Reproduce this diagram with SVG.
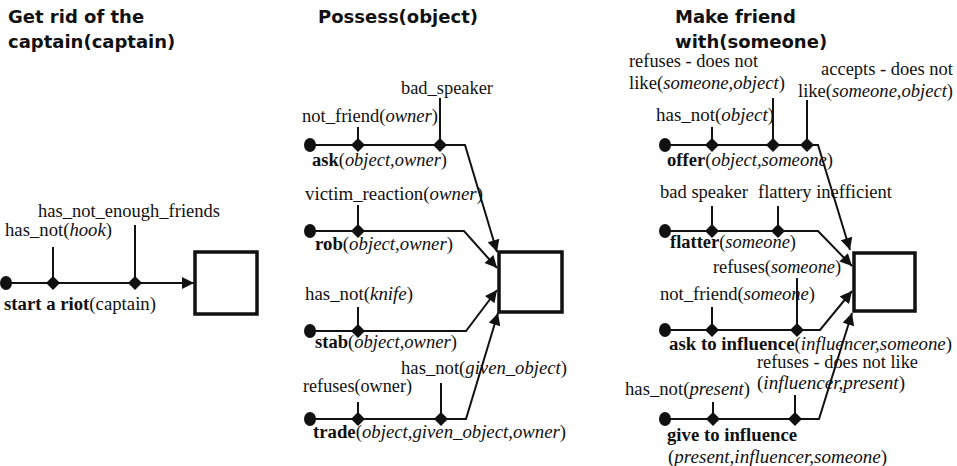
<svg xmlns="http://www.w3.org/2000/svg" width="957" height="466" viewBox="0 0 957 466">
  <style>
    .title { font-family: "DejaVu Sans", Verdana, sans-serif; font-weight: bold; font-size: 18px; fill: #111; }
    .lbl { font-family: "Liberation Serif", "DejaVu Serif", serif; font-size: 18.5px; fill: #111; }
    .b { font-weight: bold; }
    .i { font-style: italic; }
    .wire { stroke: #111; stroke-width: 2; fill: none; }
    .arr { stroke: #111; stroke-width: 2; fill: none; marker-end: url(#head); }
    .goal { fill: #fff; stroke: #111; stroke-width: 3.5; }
    .dot { fill: #111; }
    .dia { fill: #111; }
  </style>
  <defs>
    <marker id="head" viewBox="0 0 10 10" refX="10" refY="5" markerWidth="6.5" markerHeight="6" markerUnits="strokeWidth" orient="auto">
      <path d="M0,0 L10,5 L0,10 z" fill="#111"/>
    </marker>
    <path id="d" d="M0,-7 L7,0 L0,7 L-7,0 z"/>
  </defs>
  <rect width="957" height="466" fill="#fff"/>

  <!-- Goal: get rid of the captain -->
  <g id="title-captain">
    <text class="title" x="8" y="23">Get rid of the</text>
    <text class="title" x="8" y="48">captain(captain)</text>
  </g>
  <g id="goal-captain"><rect class="goal" x="195" y="252" width="62" height="62"/></g>
  <g id="plan-riot">
    <ellipse class="dot" cx="6" cy="283" rx="6" ry="7"/>
    <use href="#d" x="53" y="283" class="dia"/>
    <use href="#d" x="135" y="283" class="dia"/>
    <text class="lbl" x="5" y="236" textLength="107" lengthAdjust="spacingAndGlyphs">has_not(<tspan class="i">hook</tspan>)</text>
    <text class="lbl" x="38" y="217" textLength="182" lengthAdjust="spacingAndGlyphs">has_not_enough_friends</text>
    <text class="lbl" x="4" y="310" textLength="152" lengthAdjust="spacingAndGlyphs"><tspan class="b">start a riot</tspan>(captain)</text>
  </g>

  <!-- Goal: possess object -->
  <g id="title-possess"><text class="title" x="318" y="23">Possess(object)</text></g>
  <g id="goal-possess"><rect class="goal" x="499" y="252" width="63" height="60"/></g>
  <g id="plan-ask">
    <ellipse class="dot" cx="310" cy="145" rx="6" ry="7"/>
    <use href="#d" x="358" y="145" class="dia"/>
    <use href="#d" x="440" y="145" class="dia"/>
    <text class="lbl" x="302" y="122" textLength="136" lengthAdjust="spacingAndGlyphs">not_friend(<tspan class="i">owner</tspan>)</text>
    <text class="lbl" x="401" y="94" textLength="92" lengthAdjust="spacingAndGlyphs">bad_speaker</text>
    <text class="lbl" x="312" y="166" textLength="135" lengthAdjust="spacingAndGlyphs"><tspan class="b">ask</tspan>(<tspan class="i">object,owner</tspan>)</text>
  </g>
  <g id="plan-rob">
    <ellipse class="dot" cx="310" cy="231" rx="6" ry="7"/>
    <use href="#d" x="358" y="231" class="dia"/>
    <text class="lbl" x="305" y="200" textLength="178" lengthAdjust="spacingAndGlyphs">victim_reaction(<tspan class="i">owner</tspan>)</text>
    <text class="lbl" x="315" y="250" textLength="138" lengthAdjust="spacingAndGlyphs"><tspan class="b">rob</tspan>(<tspan class="i">object,owner</tspan>)</text>
  </g>
  <g id="plan-stab">
    <ellipse class="dot" cx="310" cy="331" rx="6" ry="7"/>
    <use href="#d" x="358" y="331" class="dia"/>
    <text class="lbl" x="305" y="300" textLength="108" lengthAdjust="spacingAndGlyphs">has_not(<tspan class="i">knife</tspan>)</text>
    <text class="lbl" x="315" y="348" textLength="142" lengthAdjust="spacingAndGlyphs"><tspan class="b">stab</tspan>(<tspan class="i">object,owner</tspan>)</text>
  </g>
  <g id="plan-trade">
    <ellipse class="dot" cx="310" cy="419" rx="6" ry="7"/>
    <use href="#d" x="358" y="419" class="dia"/>
    <use href="#d" x="441" y="419" class="dia"/>
    <text class="lbl" x="303" y="392" textLength="109" lengthAdjust="spacingAndGlyphs">refuses(owner)</text>
    <text class="lbl" x="401" y="374" textLength="166" lengthAdjust="spacingAndGlyphs">has_not(<tspan class="i">given_object</tspan>)</text>
    <text class="lbl" x="313" y="438" textLength="253" lengthAdjust="spacingAndGlyphs"><tspan class="b">trade</tspan>(<tspan class="i">object,given_object,owner</tspan>)</text>
  </g>

  <!-- Goal: make friend with someone -->
  <g id="title-friend">
    <text class="title" x="675" y="23">Make friend</text>
    <text class="title" x="675" y="48">with(someone)</text>
  </g>
  <g id="goal-friend"><rect class="goal" x="854" y="253" width="61" height="58"/></g>
  <g id="plan-offer">
    <ellipse class="dot" cx="665" cy="145" rx="6" ry="7"/>
    <use href="#d" x="712" y="145" class="dia"/>
    <use href="#d" x="773" y="145" class="dia"/>
    <use href="#d" x="807" y="145" class="dia"/>
    <text class="lbl" x="656" y="121" textLength="118" lengthAdjust="spacingAndGlyphs">has_not(<tspan class="i">object</tspan>)</text>
    <text class="lbl" x="629" y="67" textLength="129" lengthAdjust="spacingAndGlyphs">refuses - does not</text>
    <text class="lbl" x="629" y="89" textLength="156" lengthAdjust="spacingAndGlyphs">like(<tspan class="i">someone,object</tspan>)</text>
    <text class="lbl" x="821" y="75" textLength="132" lengthAdjust="spacingAndGlyphs">accepts - does not</text>
    <text class="lbl" x="798" y="97" textLength="155" lengthAdjust="spacingAndGlyphs">like(<tspan class="i">someone,object</tspan>)</text>
    <text class="lbl" x="667" y="166" textLength="166" lengthAdjust="spacingAndGlyphs"><tspan class="b">offer</tspan>(<tspan class="i">object,someone</tspan>)</text>
  </g>
  <g id="plan-flatter">
    <ellipse class="dot" cx="665" cy="231" rx="6" ry="7"/>
    <use href="#d" x="712" y="231" class="dia"/>
    <use href="#d" x="778" y="231" class="dia"/>
    <text class="lbl" x="660" y="198" textLength="88" lengthAdjust="spacingAndGlyphs">bad speaker</text>
    <text class="lbl" x="758" y="198" textLength="134" lengthAdjust="spacingAndGlyphs">flattery inefficient</text>
    <text class="lbl" x="670" y="248" textLength="126" lengthAdjust="spacingAndGlyphs"><tspan class="b">flatter</tspan>(<tspan class="i">someone</tspan>)</text>
  </g>
  <g id="plan-ask-influence">
    <ellipse class="dot" cx="665" cy="330" rx="6" ry="7"/>
    <use href="#d" x="712" y="330" class="dia"/>
    <use href="#d" x="797" y="330" class="dia"/>
    <text class="lbl" x="660" y="300" textLength="155" lengthAdjust="spacingAndGlyphs">not_friend(<tspan class="i">someone</tspan>)</text>
    <text class="lbl" x="713" y="273" textLength="128" lengthAdjust="spacingAndGlyphs">refuses(<tspan class="i">someone</tspan>)</text>
    <text class="lbl" x="669" y="350" textLength="283" lengthAdjust="spacingAndGlyphs"><tspan class="b">ask to influence</tspan>(<tspan class="i">influencer,someone</tspan>)</text>
  </g>
  <g id="plan-give-influence">
    <ellipse class="dot" cx="665" cy="419" rx="6" ry="7"/>
    <use href="#d" x="713" y="419" class="dia"/>
    <use href="#d" x="795" y="419" class="dia"/>
    <text class="lbl" x="625" y="395" textLength="125" lengthAdjust="spacingAndGlyphs">has_not(<tspan class="i">present</tspan>)</text>
    <text class="lbl" x="757" y="368" textLength="161" lengthAdjust="spacingAndGlyphs">refuses - does not like</text>
    <text class="lbl" x="757" y="389" textLength="148" lengthAdjust="spacingAndGlyphs">(<tspan class="i">influencer,present</tspan>)</text>
    <text class="lbl" x="667" y="441" textLength="130" lengthAdjust="spacingAndGlyphs"><tspan class="b">give to influence</tspan></text>
    <text class="lbl" x="668" y="463" textLength="219" lengthAdjust="spacingAndGlyphs">(<tspan class="i">present,influencer,someone</tspan>)</text>
  </g>

  <!-- connectors: plan lines, condition ticks, arrows into goals -->
  <g id="connectors">
    <path class="arr" d="M6,283 H194"/>
    <path class="wire" d="M53,247 V283 M135,225 V283"/>

    <path class="arr" d="M310,145 H465 L497,252"/>
    <path class="wire" d="M358,127 V145 M440,98 V145"/>
    <path class="arr" d="M310,231 H464 L497,268"/>
    <path class="wire" d="M358,205 V231"/>
    <path class="arr" d="M310,331 H466 L497,290"/>
    <path class="wire" d="M358,307 V331"/>
    <path class="arr" d="M310,419 H466 L498,313"/>
    <path class="wire" d="M358,402 V419 M441,383 V419"/>

    <path class="arr" d="M665,145 H818 L850,250"/>
    <path class="wire" d="M712,127 V145 M773,98 V145 M807,100 V145"/>
    <path class="arr" d="M665,231 H818 L852,266"/>
    <path class="wire" d="M712,206 V231 M778,206 V231"/>
    <path class="arr" d="M665,330 H820 L852,291"/>
    <path class="wire" d="M712,307 V330 M797,278 V330"/>
    <path class="arr" d="M665,419 H819 L852,313"/>
    <path class="wire" d="M713,402 V419 M795,395 V419"/>
  </g>
</svg>
